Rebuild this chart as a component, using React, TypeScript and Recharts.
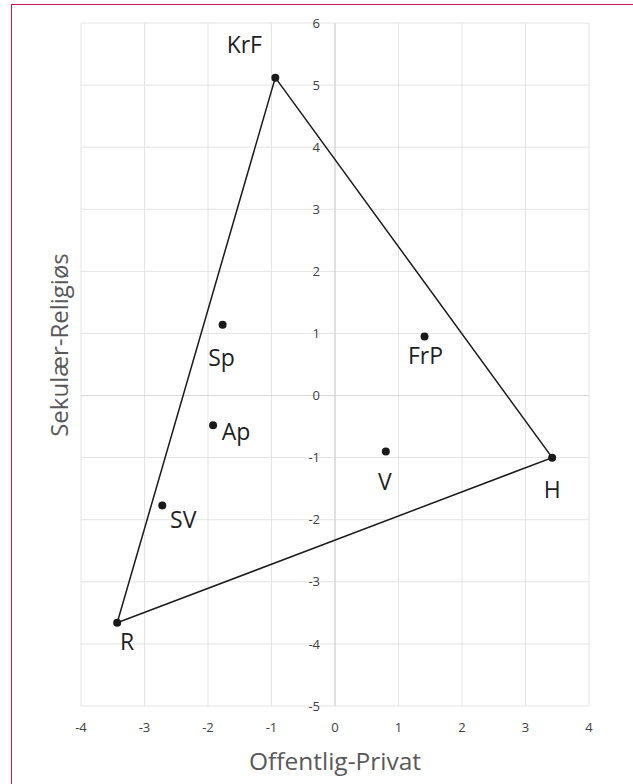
import { ScatterChart, Scatter, XAxis, YAxis, CartesianGrid, ReferenceLine } from "recharts";

const parties = ["KrF", "H", "R", "Sp", "FrP", "Ap", "V", "SV"];
const offentligPrivat = [-0.94, 3.42, -3.43, -1.77, 1.41, -1.92, 0.8, -2.72];
const sekulaerReligios = [5.12, -1.0, -3.66, 1.14, 0.95, -0.48, -0.9, -1.77];
const triangleOrder = ["KrF", "H", "R", "KrF"];
const xTicks = [-4, -3, -2, -1, 0, 1, 2, 3, 4];
const yTicks = [-5, -4, -3, -2, -1, 0, 1, 2, 3, 4, 5, 6];

// where each party label sits relative to its marker (text centre)
const labelOffset: Record<string, [number, number]> = {
  KrF: [-31, -33],
  H: [0, 32],
  R: [10, 19],
  Sp: [-1, 33],
  FrP: [1, 19],
  Ap: [23, 6],
  V: [-1, 30],
  SV: [21, 14],
};

const W = 633;
const H = 784;
const M = { top: 23, right: 44, bottom: 48, left: 21 };
const Y_AXIS_W = 60;
const X_AXIS_H = 30;
const PLOT_LEFT = M.left + Y_AXIS_W;
const PLOT_W = W - M.right - PLOT_LEFT;
const PLOT_BOTTOM = H - M.bottom - X_AXIS_H;
const ZERO_X = PLOT_LEFT + ((0 - xTicks[0]) / (xTicks[xTicks.length - 1] - xTicks[0])) * PLOT_W;

const FONT = "'Open Sans', 'Noto Sans', sans-serif";

const points = parties.map((name, i) => ({ name, x: offentligPrivat[i], y: sekulaerReligios[i] }));
const triangle = triangleOrder.map((n) => points.find((p) => p.name === n)!);

function PartyDot(props: any) {
  const { cx, cy, payload } = props;
  const [dx, dy] = labelOffset[payload.name] ?? [0, 20];
  return (
    <g>
      <circle cx={cx} cy={cy} r={4} fill="#1a1a1a" />
      <text
        x={cx + dx}
        y={cy + dy}
        dy="0.36em"
        textAnchor="middle"
        fontFamily={FONT}
        fontSize={23}
        fill="#1f1f1f"
      >
        {payload.name}
      </text>
    </g>
  );
}

function XTick(props: any) {
  const { x, payload } = props;
  return (
    <text x={x} y={PLOT_BOTTOM + 21} dy="0.36em" textAnchor="middle" fontFamily={FONT} fontSize={13} fill="#404040">
      {payload.value}
    </text>
  );
}

function YTick(props: any) {
  const { y, payload } = props;
  return (
    <text x={ZERO_X - 15} y={y} dy="0.36em" textAnchor="end" fontFamily={FONT} fontSize={13} fill="#404040">
      {payload.value}
    </text>
  );
}

export default function App() {
  return (
    <div style={{ position: "fixed", left: 0, top: 0, width: W, height: H, overflow: "hidden", background: "#fff" }}>
      <div
        style={{
          position: "absolute",
          left: 11,
          top: 4,
          width: W + 20,
          height: H + 20,
          border: "1.5px solid #c2185b",
          boxSizing: "border-box",
        }}
      />
      <div style={{ position: "absolute", left: 0, top: 0 }}>
        <ScatterChart width={W} height={H} margin={M}>
          <CartesianGrid stroke="#e4e4e4" strokeWidth={1} />
          <XAxis
            type="number"
            dataKey="x"
            domain={[-4, 4]}
            ticks={xTicks}
            height={X_AXIS_H}
            axisLine={false}
            tickLine={false}
            tick={<XTick />}
            label={{
              value: "Offentlig-Privat",
              content: () => (
                <text x={ZERO_X} y={770} textAnchor="middle" fontFamily={FONT} fontSize={24.5} fill="#595959">
                  Offentlig-Privat
                </text>
              ),
            }}
          />
          <YAxis
            type="number"
            dataKey="y"
            domain={[-5, 6]}
            ticks={yTicks}
            width={Y_AXIS_W}
            axisLine={false}
            tickLine={false}
            tick={<YTick />}
            label={{
              value: "Sekulær-Religiøs",
              content: () => (
                <text
                  x={0}
                  y={0}
                  transform={`translate(59, 345) rotate(-90)`}
                  dy="0.36em"
                  textAnchor="middle"
                  fontFamily={FONT}
                  fontSize={24}
                  fill="#595959"
                >
                  Sekulær-Religiøs
                </text>
              ),
            }}
          />
          <ReferenceLine x={0} stroke="#cfcfcf" strokeWidth={1} />
          <ReferenceLine y={0} stroke="#d6d6d6" strokeWidth={1} />
          <Scatter
            data={triangle}
            line={{ stroke: "#1a1a1a", strokeWidth: 1.5 }}
            shape={() => <g />}
            isAnimationActive={false}
          />
          <Scatter data={points} shape={<PartyDot />} isAnimationActive={false} />
        </ScatterChart>
      </div>
    </div>
  );
}
